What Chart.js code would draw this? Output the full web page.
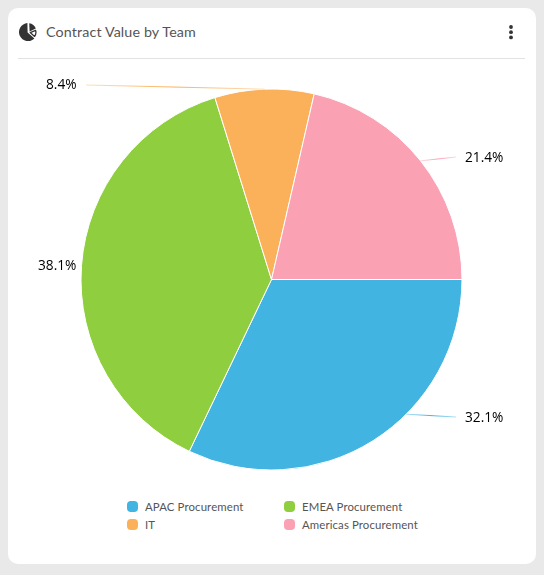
<!DOCTYPE html>
<html><head><meta charset="utf-8">
<script src="https://cdn.jsdelivr.net/npm/chart.js@4"></script>
<style>
html,body{margin:0;padding:0;background:#e9e9e9;width:544px;height:575px;overflow:hidden}
#card{position:absolute;left:8px;top:8px;width:528px;height:556px;background:#fff;border-radius:10px}
#rule{position:absolute;left:18px;top:58px;width:507px;height:1px;background:#e2e2e2}
#title{position:absolute;left:46px;top:23px;font:14.3px/18px Lato,sans-serif;color:#555;letter-spacing:.12px;white-space:nowrap}
#icon{position:absolute;left:19px;top:23px}
#kebab{position:absolute;left:507px;top:24px}
#c{position:absolute;left:8px;top:60px}
.lg{position:absolute;font:11.4px/14px Lato,sans-serif;color:#555;letter-spacing:.12px;white-space:nowrap}
.sw{position:absolute;width:11px;height:11px;border-radius:4px}
</style></head><body>
<div id="card"></div><div id="rule"></div>
<svg id="icon" width="18" height="18" viewBox="0 0 18 18">
<path fill="#333" d="M8.4 0.1A9 9 0 1 0 15.4 15.4L8.6 9.4Z"/>
<path fill="#333" d="M10.2 0.2A8.4 8.4 0 0 1 16.8 5.6L10.6 8.4Z"/>
<path fill="#fff" stroke="#333" stroke-width="1.3" stroke-linejoin="round" d="M11.2 9.6L16.6 7.4Q17.6 10.4 15.6 13.4Z"/>
</svg>
<svg id="kebab" width="8" height="18" viewBox="0 0 8 18"><circle cx="4" cy="3" r="1.9" fill="#333"/><circle cx="4" cy="8.2" r="1.9" fill="#333"/><circle cx="4" cy="13.4" r="1.9" fill="#333"/></svg>
<div id="title">Contract Value by Team</div>
<canvas id="c" width="527" height="439" style="width:527px;height:439px"></canvas>
<div id="legend"></div>
<script>
const categories = ["APAC Procurement","EMEA Procurement","IT","Americas Procurement"];
const shares = [32.1,38.1,8.4,21.4];
const colours = ["#41b4e1","#8fce3f","#fbb15a","#fba1b4"];

// callout geometry, in pixels from the pie centre / degrees clockwise from 3 o'clock
const calloutAngle = [45,null,null,null];
const calloutEnd = [[184.5,137.5],[-190,-14],[-185.5,-194.5],[184.5,-122.5]];
const labelPos = [[193.5,138.5],[-233.5,-13.5],[-225.5,-194.5],[193.5,-121.5]];
const legendX = [127,284,127,284];
const legendY = [507,507,525,525];

const callouts = {
  id:'callouts',
  afterDatasetsDraw(chart){
    const {ctx} = chart;
    chart.getDatasetMeta(0).data.forEach((arc,i)=>{
      const p = arc.getProps(['x','y','startAngle','endAngle','outerRadius'],true);
      const a = calloutAngle[i]!==null ? calloutAngle[i]*Math.PI/180 : (p.startAngle+p.endAngle)/2;
      const x0 = p.x+Math.cos(a)*p.outerRadius, y0 = p.y+Math.sin(a)*p.outerRadius;
      const x1 = p.x+calloutEnd[i][0], y1 = p.y+calloutEnd[i][1];
      const g = ctx.createLinearGradient(x0,y0,x1,y1);
      g.addColorStop(0,colours[i]+'66');g.addColorStop(.5,colours[i]);g.addColorStop(1,colours[i]+'66');
      ctx.save();
      ctx.strokeStyle=g;ctx.lineWidth=1;
      ctx.beginPath();ctx.moveTo(x0,y0);ctx.lineTo(x1,y1);ctx.stroke();
      ctx.fillStyle='#000';ctx.font='13.7px "Open Sans",sans-serif';
      ctx.textBaseline='middle';ctx.textAlign='left';
      ctx.fillText(shares[i].toFixed(1)+'%',p.x+labelPos[i][0],p.y+labelPos[i][1]);
      ctx.restore();
    });
  }
};

new Chart(document.getElementById('c'),{
  type:'pie',
  data:{labels:categories,datasets:[{data:shares,backgroundColor:colours,borderColor:'#fff',borderWidth:1}]},
  options:{responsive:false,animation:false,rotation:90,radius:190.5,
    layout:{padding:0},
    plugins:{legend:{display:false},tooltip:{enabled:false},title:{display:false}}},
  plugins:[callouts]
});

const lg=document.getElementById('legend');
categories.forEach((n,i)=>{
  const s=document.createElement('div');s.className='sw';s.style.cssText=`left:${legendX[i]}px;top:${legendY[i]-6}px;background:${colours[i]}`;
  const t=document.createElement('div');t.className='lg';t.textContent=n;t.style.cssText=`left:${legendX[i]+18}px;top:${legendY[i]-7}px`;
  lg.append(s,t);
});
</script>
</body></html>
